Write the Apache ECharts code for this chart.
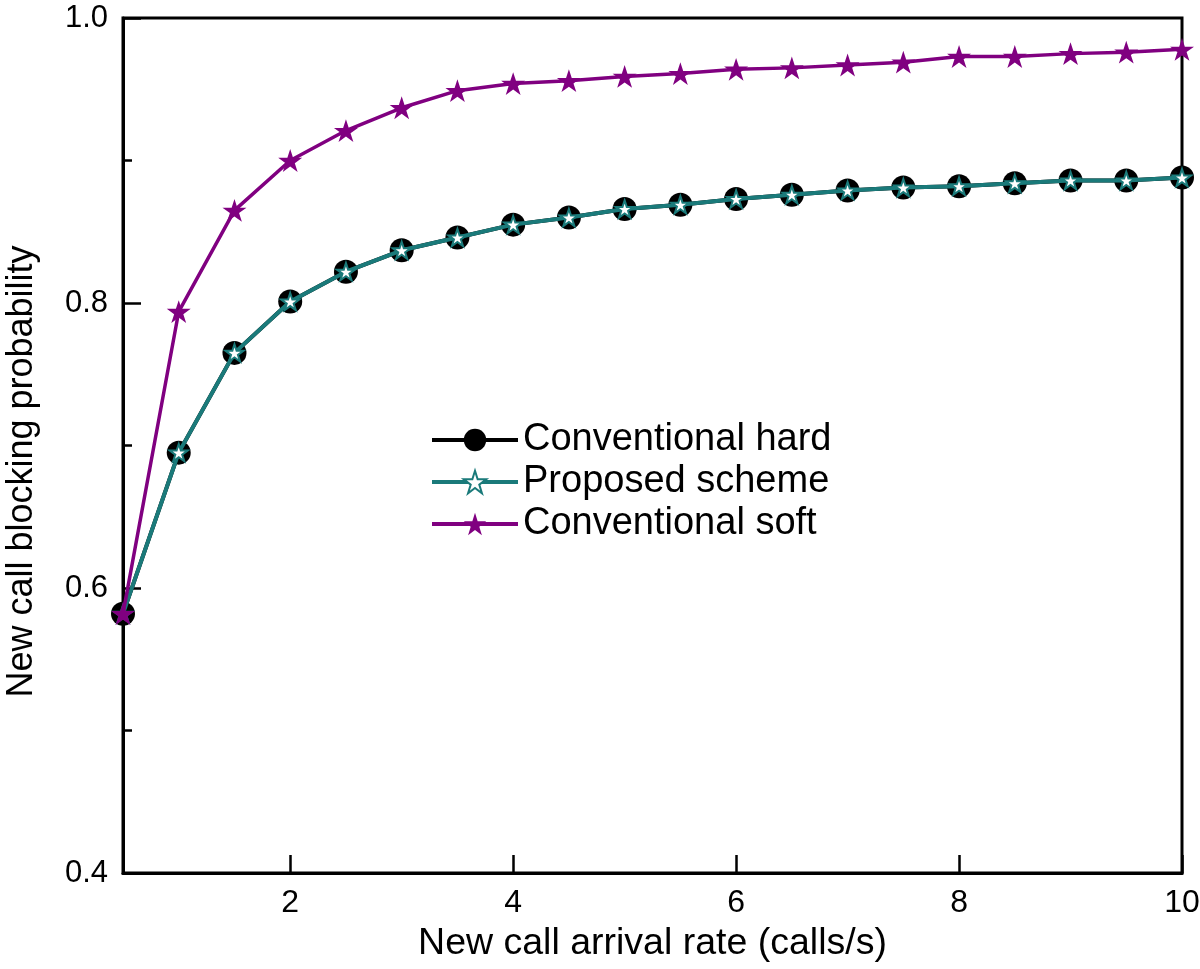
<!DOCTYPE html>
<html>
<head>
<meta charset="utf-8">
<script src="https://cdn.jsdelivr.net/npm/echarts@6/dist/echarts.min.js"></script>
<style>html,body{margin:0;padding:0;background:#fff}#c{width:1200px;height:969px}</style>
</head>
<body>
<div id="c"></div>
<script>
const xValues = [0.5, 1, 1.5, 2, 2.5, 3, 3.5, 4, 4.5, 5, 5.5, 6, 6.5, 7, 7.5, 8, 8.5, 9, 9.5, 10];
const hardValues = [0.582, 0.695, 0.765, 0.801, 0.822, 0.837, 0.846, 0.855, 0.860, 0.866, 0.869, 0.873, 0.876, 0.879, 0.881, 0.882, 0.884, 0.886, 0.886, 0.888];
const proposedValues = [0.582, 0.695, 0.765, 0.801, 0.822, 0.837, 0.846, 0.855, 0.860, 0.866, 0.869, 0.873, 0.876, 0.879, 0.881, 0.882, 0.884, 0.886, 0.886, 0.888];
const softValues = [0.582, 0.794, 0.865, 0.900, 0.921, 0.937, 0.949, 0.954, 0.956, 0.959, 0.961, 0.964, 0.965, 0.967, 0.969, 0.973, 0.973, 0.975, 0.976, 0.978];
const seriesNames = ['Conventional hard', 'Proposed scheme', 'Conventional soft'];
const xTicks = [2, 4, 6, 8, 10];

const FONT = "'Liberation Sans', Arial, Helvetica, sans-serif";
const STAR = 'path://M50 0 L61.23 34.55 L97.55 34.55 L68.17 55.9 L79.39 90.45 L50 69.1 L20.61 90.45 L31.83 55.9 L2.45 34.55 L38.77 34.55 Z';
const TEAL = '#1a7a7a';
const PURPLE = '#800080';
const pairs = v => xValues.map((x, i) => [x, v[i]]);

const chart = echarts.init(document.getElementById('c'), null, {renderer: 'canvas'});
chart.setOption({
  animation: false,
  backgroundColor: '#fff',
  textStyle: {fontFamily: FONT},
  grid: {left: 123, right: 18, top: 18, bottom: 96, outerBoundsMode: 'none', containLabel: false,
         show: true, borderColor: '#000', borderWidth: 3, backgroundColor: 'transparent'},
  legend: {
    orient: 'vertical', left: 425, top: 416, itemWidth: 86, itemHeight: 28, itemGap: 4,
    textStyle: {fontSize: 38, color: '#000', fontFamily: FONT},
    lineStyle: {width: 4},
    data: seriesNames
  },
  xAxis: {
    type: 'value', min: 0.5, max: 10,
    name: 'New call arrival rate (calls/s)', nameLocation: 'middle', nameGap: 52,
    nameTextStyle: {fontSize: 37.5, color: '#000', fontFamily: FONT},
    axisLine: {show: true, lineStyle: {color: '#000', width: 3}},
    axisTick: {show: true, inside: true, length: 18, lineStyle: {color: '#000', width: 2.5}, customValues: xTicks},
    axisLabel: {fontSize: 32, color: '#000', margin: 14, fontFamily: FONT, customValues: xTicks},
    splitLine: {show: false}
  },
  yAxis: {
    type: 'value', min: 0.4, max: 1.0, interval: 0.2,
    name: 'New call blocking probability', nameLocation: 'middle', nameGap: 83,
    nameTextStyle: {fontSize: 36, color: '#000', fontFamily: FONT, padding: [0, 52, 0, 0]},
    axisLine: {show: true, lineStyle: {color: '#000', width: 3}},
    axisTick: {show: true, inside: true, length: 18, lineStyle: {color: '#000', width: 2.5}},
    minorTick: {show: true, splitNumber: 2, length: 9, lineStyle: {color: '#000', width: 2.5}},
    axisLabel: {fontSize: 31, color: '#000', margin: 15, fontFamily: FONT, formatter: v => v.toFixed(1)},
    splitLine: {show: false}
  },
  series: [
    {
      name: seriesNames[0], type: 'line', data: pairs(hardValues),
      symbol: 'circle', symbolSize: 24,
      lineStyle: {color: '#000', width: 4},
      itemStyle: {color: '#000'}, z: 2
    },
    {
      name: seriesNames[1], type: 'line', data: pairs(proposedValues),
      symbol: STAR, symbolSize: 18, symbolKeepAspect: true,
      lineStyle: {color: TEAL, width: 4},
      itemStyle: {color: '#fff', borderColor: TEAL, borderWidth: 2}, z: 3
    },
    {
      name: seriesNames[2], type: 'line', data: pairs(softValues),
      symbol: STAR, symbolSize: 24, symbolKeepAspect: true,
      lineStyle: {color: PURPLE, width: 3.5},
      itemStyle: {color: PURPLE}, z: 4
    }
  ]
});
</script>
</body>
</html>
